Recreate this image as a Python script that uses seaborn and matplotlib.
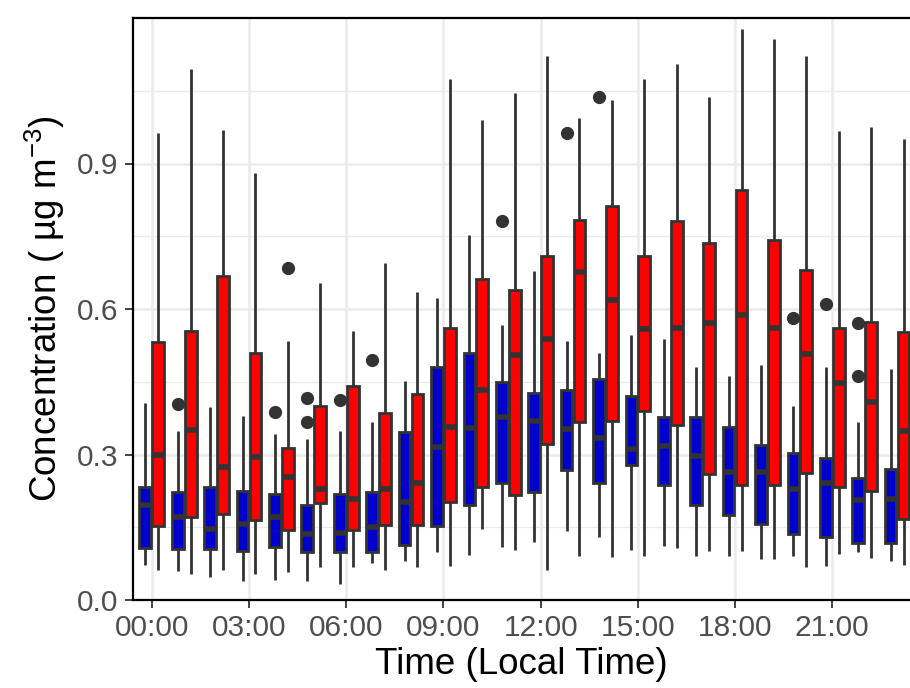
import numpy as np
import pandas as pd
import matplotlib
matplotlib.use("Agg")
import matplotlib.pyplot as plt
from matplotlib.ticker import FixedLocator
import seaborn as sns

hours = list(range(24))
tick_hours = list(range(0, 24, 3))
tick_labels = ["00:00", "03:00", "06:00", "09:00", "12:00", "15:00", "18:00", "21:00"]
groups = ["Series 1", "Series 2"]

# Box summaries (whisker low, Q1, median, Q3, whisker high, outliers)
blue_low = [0.072, 0.059, 0.047, 0.039, 0.041, 0.039, 0.033, 0.076, 0.080, 0.098, 0.092, 0.110,
            0.119, 0.143, 0.129, 0.104, 0.112, 0.090, 0.091, 0.085, 0.090, 0.070, 0.098, 0.080]
blue_q1 = [0.108, 0.106, 0.106, 0.102, 0.110, 0.098, 0.098, 0.098, 0.114, 0.153, 0.195, 0.242,
           0.222, 0.269, 0.242, 0.279, 0.238, 0.195, 0.176, 0.157, 0.137, 0.129, 0.118, 0.118]
blue_med = [0.195, 0.172, 0.147, 0.157, 0.171, 0.137, 0.138, 0.151, 0.202, 0.316, 0.355, 0.377,
            0.369, 0.352, 0.334, 0.312, 0.317, 0.297, 0.263, 0.263, 0.229, 0.242, 0.206, 0.208]
blue_q3 = [0.234, 0.222, 0.233, 0.225, 0.218, 0.195, 0.218, 0.222, 0.347, 0.480, 0.509, 0.449,
           0.426, 0.432, 0.456, 0.421, 0.377, 0.378, 0.356, 0.320, 0.303, 0.293, 0.251, 0.271]
blue_high = [0.407, 0.348, 0.397, 0.379, 0.343, 0.332, 0.348, 0.367, 0.452, 0.623, 0.753, 0.568,
             0.678, 0.533, 0.509, 0.546, 0.538, 0.481, 0.461, 0.485, 0.401, 0.481, 0.367, 0.477]
blue_out = [[], [0.405], [], [], [0.388], [0.366, 0.417], [0.412], [0.495], [], [], [], [0.782],
            [], [0.963], [1.038], [], [], [], [], [], [0.582], [0.610], [0.462, 0.572], []]

red_low = [0.062, 0.054, 0.062, 0.054, 0.058, 0.068, 0.068, 0.062, 0.068, 0.070, 0.147, 0.104,
           0.061, 0.090, 0.088, 0.090, 0.108, 0.102, 0.102, 0.085, 0.069, 0.094, 0.086, 0.072]
red_q1 = [0.153, 0.171, 0.177, 0.165, 0.145, 0.200, 0.145, 0.155, 0.155, 0.202, 0.232, 0.216,
          0.321, 0.366, 0.370, 0.389, 0.360, 0.259, 0.237, 0.237, 0.261, 0.233, 0.225, 0.168]
red_med = [0.298, 0.351, 0.275, 0.294, 0.254, 0.228, 0.208, 0.228, 0.241, 0.356, 0.434, 0.505,
           0.538, 0.677, 0.619, 0.558, 0.560, 0.572, 0.588, 0.561, 0.507, 0.448, 0.409, 0.348]
red_q3 = [0.531, 0.554, 0.668, 0.509, 0.314, 0.400, 0.441, 0.385, 0.424, 0.560, 0.662, 0.639,
          0.710, 0.784, 0.812, 0.710, 0.781, 0.737, 0.845, 0.742, 0.680, 0.560, 0.574, 0.553]
red_high = [0.963, 1.095, 0.970, 0.881, 0.534, 0.654, 0.554, 0.694, 0.635, 1.074, 0.989, 1.046,
            1.121, 0.993, 1.030, 1.074, 1.105, 1.038, 1.177, 1.156, 1.121, 0.967, 0.975, 0.950]
red_out = [[], [], [], [], [0.684], [], [], [], [], [], [], [],
           [], [], [], [], [], [], [], [], [], [], [], []]


def sample_from_summary(low, q1, med, q3, high, out):
    """Small sample whose linear-interpolated quartiles and whiskers equal the summary."""
    k = len(out)
    m = k + 1
    return [low] * m + [q1] * m + [med] * m + [q3] + [high] * (m - k) + list(out)


rows = []
for g, (lo, a, b, c, hi, ou) in zip(groups, [
        (blue_low, blue_q1, blue_med, blue_q3, blue_high, blue_out),
        (red_low, red_q1, red_med, red_q3, red_high, red_out)]):
    for i, h in enumerate(hours):
        for v in sample_from_summary(lo[i], a[i], b[i], c[i], hi[i], ou[i]):
            rows.append({"hour": h, "group": g, "value": v})
df = pd.DataFrame(rows)

sns.set_theme(style="white")
plt.rcParams["font.family"] = ["Liberation Sans", "DejaVu Sans"]
plt.rcParams["mathtext.fontset"] = "custom"
plt.rcParams["mathtext.rm"] = "Liberation Sans"
plt.rcParams["mathtext.it"] = "Liberation Sans:italic"

fig = plt.figure(figsize=(9.10, 6.88), dpi=100)
ax = fig.add_axes([133 / 910, 88 / 688, 777 / 910, 582 / 688])

edge = "#333333"
sns.boxplot(data=df, x="hour", y="value", hue="group", order=hours, hue_order=groups,
            palette={groups[0]: "#0000CD", groups[1]: "#FF0000"}, saturation=1,
            width=0.8, gap=0.1, linecolor=edge, linewidth=2.0, showcaps=False,
            medianprops=dict(linewidth=4.0, color=edge, solid_capstyle="butt"),
            whiskerprops=dict(linewidth=2.0, color=edge),
            flierprops=dict(marker="o", markerfacecolor=edge, markeredgecolor=edge,
                            markersize=8.5),
            legend=False, ax=ax)

ax.set_xlim(-0.58, 23.4)
ax.set_ylim(0, 1.2)
ax.xaxis.set_major_locator(FixedLocator(tick_hours))
ax.set_xticklabels(tick_labels)
ax.yaxis.set_major_locator(FixedLocator([0.0, 0.3, 0.6, 0.9]))
ax.set_yticklabels(["0.0", "0.3", "0.6", "0.9"])
ax.yaxis.set_minor_locator(FixedLocator([0.15, 0.45, 0.75, 1.05]))

ax.set_axisbelow(True)
ax.grid(True, which="major", axis="both", color="#EBEBEB", linewidth=1.8)
ax.grid(True, which="minor", axis="y", color="#EBEBEB", linewidth=0.9)

for s in ["top", "left", "bottom"]:
    ax.spines[s].set_visible(True)
    ax.spines[s].set_color("black")
    ax.spines[s].set_linewidth(1.6)
ax.spines["right"].set_visible(False)

ax.tick_params(axis="both", which="major", direction="out", length=5.5, width=1.3,
               color=edge, labelsize=21.5, labelcolor="#4D4D4D",
               bottom=True, left=True)
ax.tick_params(axis="x", which="major", pad=4.5)
ax.tick_params(axis="y", which="major", pad=5.0)
ax.tick_params(axis="both", which="minor", length=0)

ax.set_xlabel("Time (Local Time)", fontsize=26.5, color="black", labelpad=4)
ax.set_ylabel("Concentration ( µg m$^{-3}$)", fontsize=26.5, color="black", labelpad=7)

fig.savefig("out.png", dpi=100)
